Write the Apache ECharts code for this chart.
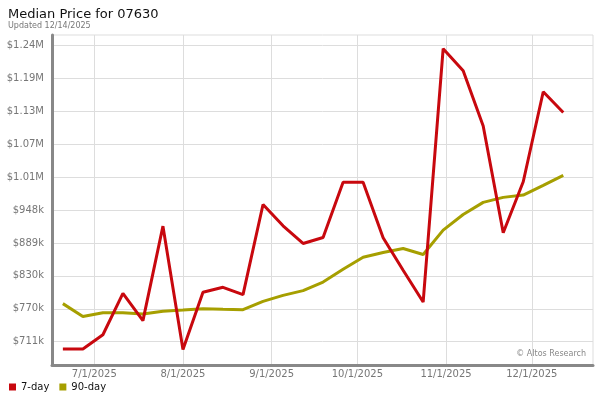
<!DOCTYPE html>
<html>
<head>
<meta charset="utf-8">
<script src="https://cdn.jsdelivr.net/npm/echarts@6/dist/echarts.min.js"></script>
<style>html,body{margin:0;padding:0;background:#fff}#c{width:600px;height:400px}</style>
</head>
<body>
<div id="c"></div>
<script>
var dates = ['2025-06-20','2025-06-27','2025-07-04','2025-07-11','2025-07-18','2025-07-25','2025-08-01','2025-08-08','2025-08-15','2025-08-22','2025-08-29','2025-09-05','2025-09-12','2025-09-19','2025-09-26','2025-10-03','2025-10-10','2025-10-17','2025-10-24','2025-10-31','2025-11-07','2025-11-14','2025-11-21','2025-11-28','2025-12-05','2025-12-12'];
var sevenDay = [698000,698000,723600,798000,749000,919000,697000,800000,809000,795800,958000,919600,887800,898600,998000,998000,898000,839600,782400,1238400,1198700,1099400,907000,999000,1160800,1123400];
var ninetyDay = [779600,756600,763300,763300,760800,765700,768000,770500,769300,768700,783700,794500,803000,818500,841400,863000,871500,878800,868000,911800,940000,961800,970800,975000,992500,1010500];
var yTicks = [711000,770250,829500,888750,948000,1007250,1066500,1125750,1185000,1244250];
var yTickLabels = ['$711k','$770k','$830k','$889k','$948k','$1.01M','$1.07M','$1.13M','$1.19M','$1.24M'];
var xTickDates = ['2025-07-01','2025-08-01','2025-09-01','2025-10-01','2025-11-01','2025-12-01'];

function ts(s){var p=s.split('-');return Date.UTC(+p[0],+p[1]-1,+p[2]);}
var xTicks = xTickDates.map(ts);
var DAY = 86400000;

var chart = echarts.init(document.getElementById('c'));
chart.setOption({
  animation:false,
  textStyle:{fontFamily:'DejaVu Sans'},
  title:{
    text:'Median Price for 07630', subtext:'Updated 12/14/2025',
    left:3, top:3, itemGap:1,
    textStyle:{fontSize:13, fontWeight:'normal', color:'#111', fontFamily:'DejaVu Sans'},
    subtextStyle:{fontSize:8, color:'#777', fontFamily:'DejaVu Sans'}
  },
  legend:{
    left:4, bottom:3, itemWidth:7, itemHeight:7, itemGap:10, icon:'rect',
    textStyle:{fontSize:10, color:'#111', fontFamily:'DejaVu Sans'},
    data:['7-day','90-day']
  },
  grid:{left:52, right:7, top:35, bottom:35, show:true, borderColor:'#ddd', borderWidth:1},
  xAxis:{
    type:'value',
    min: ts('2025-06-16') + 0.2*DAY,
    max: ts('2025-12-22') + 0.4*DAY,
    axisLine:{show:true, onZero:false, lineStyle:{color:'#888', width:3}},
    axisTick:{show:false, customValues:xTicks},
    axisLabel:{customValues:xTicks, color:'#777', fontSize:10, margin:4,
      formatter:function(v){var d=new Date(v);return (d.getUTCMonth()+1)+'/'+d.getUTCDate()+'/'+d.getUTCFullYear();}},
    splitLine:{show:true, lineStyle:{color:'#ddd', width:1}}
  },
  yAxis:{
    type:'value',
    min:669150, max:1263000,
    axisLine:{show:true, onZero:false, lineStyle:{color:'#888', width:3}},
    axisTick:{show:false, customValues:yTicks},
    axisLabel:{customValues:yTicks, color:'#777', fontSize:10, margin:8,
      formatter:function(v){var i=yTicks.indexOf(v);return i>=0?yTickLabels[i]:'';}},
    splitLine:{show:true, lineStyle:{color:'#ddd', width:1}}
  },
  graphic:[{type:'text', right:14, top:350, style:{text:'\u00a9 Altos Research', fill:'#888', fontSize:8, fontFamily:'DejaVu Sans'}}],
  series:[
    {name:'7-day', type:'line', showSymbol:false, symbol:'none', color:'#c8080e',
     lineStyle:{width:3, color:'#c8080e'}, z:3,
     data: dates.map(function(d,i){return [ts(d), sevenDay[i]];})},
    {name:'90-day', type:'line', showSymbol:false, symbol:'none', color:'#a69f00',
     lineStyle:{width:3, color:'#a69f00'}, z:2,
     data: dates.map(function(d,i){return [ts(d), ninetyDay[i]];})}
  ]
});
</script>
</body>
</html>
